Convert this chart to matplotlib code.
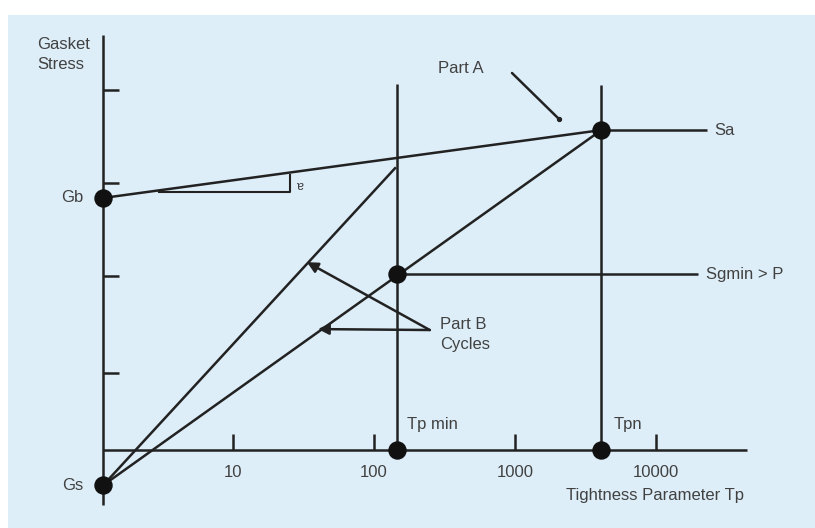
import numpy as np
import matplotlib.pyplot as plt
from matplotlib.patches import Rectangle

plt.rcParams['font.family'] = ['Liberation Sans', 'DejaVu Sans']

# axis values (Tp on log scale, gasket stress in arbitrary units)
tp_ticks = [10, 100, 1000, 10000]
tp_tick_labels = ['10', '100', '1000', '10000']
stress_ticks = [3.87, 2.87, 1.87, 0.83]

tp_origin = 1.2
tp_axis_end = 44000
stress_axis_top = 4.46
stress_axis_bottom = -0.59

# key points
tp_min = 146
tpn = 4100
gb = 2.71
gs = -0.38
sa = 3.44
sgmin = 1.89
steep_top = 3.04      # end of the steeper cycle line on the Tp min vertical

line_col = '#222222'
text_col = '#414141'
fs = 12

fig = plt.figure(figsize=(8.15, 5.28), dpi=100)
fig.patch.set_facecolor('white')
fig.add_artist(Rectangle((8 / 815, 0), 1, 513 / 528, transform=fig.transFigure,
                         facecolor='#ddeef8', edgecolor='none', zorder=0))

ax = fig.add_axes([0, 0, 1, 1])
ax.set_xscale('log')
ax.set_xlim(10 ** -0.652, 10 ** 5.128)
ax.set_ylim(-0.839, 4.839)
ax.axis('off')
ax.patch.set_alpha(0)

lw = 1.8
kw = dict(color=line_col, lw=lw, solid_capstyle='butt')

# axes of the diagram
ax.plot([tp_origin, tp_origin], [stress_axis_bottom, stress_axis_top], **kw)
ax.plot([tp_origin, tp_axis_end], [0, 0], **kw)

# tick marks
for t in tp_ticks:
    ax.plot([t, t], [0, 0.17], **kw)
for s in stress_ticks:
    ax.plot([tp_origin, tp_origin * 1.3], [s, s], **kw)

# verticals at Tp min and Tpn
ax.plot([tp_min, tp_min], [0, 3.94], **kw)
ax.plot([tpn, tpn], [0, 3.92], **kw)

# loading lines
ax.plot([tp_origin, tpn], [gb, sa], **kw)
ax.plot([tp_origin, tpn], [gs, sa], **kw)
ax.plot([tp_origin, tp_min * 0.98], [gs, steep_top], **kw)

# horizontals to labels
ax.plot([tpn, 23000], [sa, sa], **kw)
ax.plot([tp_min, 20000], [sgmin, sgmin], **kw)

# slope triangle
tri_x = [3.0, 25.4, 25.4]
tri_y = [2.774, 2.774, 2.96]
ax.plot(tri_x, tri_y, color=line_col, lw=1.5)
ax.text(30, 2.86, 'a', rotation=180, fontsize=9, color=text_col,
        ha='center', va='center')

# points
pts_x = [tp_origin, tp_origin, tp_min, tp_min, tpn, tpn]
pts_y = [gb, gs, sgmin, 0, sa, 0]
ax.scatter(pts_x, pts_y, s=150, color='#111111', zorder=5)

# Part A pointer
ax.annotate('', xy=(2050, 3.56), xytext=(953, 4.054),
            arrowprops=dict(arrowstyle='-', color=line_col, lw=lw,
                            shrinkA=0, shrinkB=0))
ax.scatter([2050], [3.56], s=8, color=line_col, zorder=5)
ax.text(284, 4.1, 'Part A', fontsize=fs, color=text_col, va='center', ha='left')

# Part B arrows
for target in [(33.5, 2.02), (40.1, 1.30)]:
    ax.annotate('', xy=target, xytext=(249, 1.29),
                arrowprops=dict(arrowstyle='-|>', color=line_col, lw=lw,
                                mutation_scale=16, shrinkA=0, shrinkB=0))
ax.text(294, 1.24, 'Part B\nCycles', fontsize=fs, color=text_col,
        va='center', ha='left', linespacing=1.4)

# labels
ax.text(0.407, 4.25, 'Gasket\nStress', fontsize=fs, color=text_col,
        ha='left', va='center', linespacing=1.4)
ax.text(0.863, gb, 'Gb', fontsize=fs, color=text_col, ha='right', va='center')
ax.text(0.863, gs, 'Gs', fontsize=fs, color=text_col, ha='right', va='center')
ax.text(26000, sa, 'Sa', fontsize=fs, color=text_col, ha='left', va='center')
ax.text(22500, sgmin, 'Sgmin > P', fontsize=fs, color=text_col, ha='left', va='center')
ax.text(tp_min * 1.17, 0.27, 'Tp min', fontsize=fs, color=text_col, ha='left', va='center')
ax.text(tpn * 1.22, 0.27, 'Tpn', fontsize=fs, color=text_col, ha='left', va='center')
for t, lab in zip(tp_ticks, tp_tick_labels):
    ax.text(t, -0.24, lab, fontsize=fs, color=text_col, ha='center', va='center')
ax.text(9900, -0.49, 'Tightness Parameter Tp', fontsize=fs, color=text_col,
        ha='center', va='center')

fig.savefig('out.png', dpi=100)
